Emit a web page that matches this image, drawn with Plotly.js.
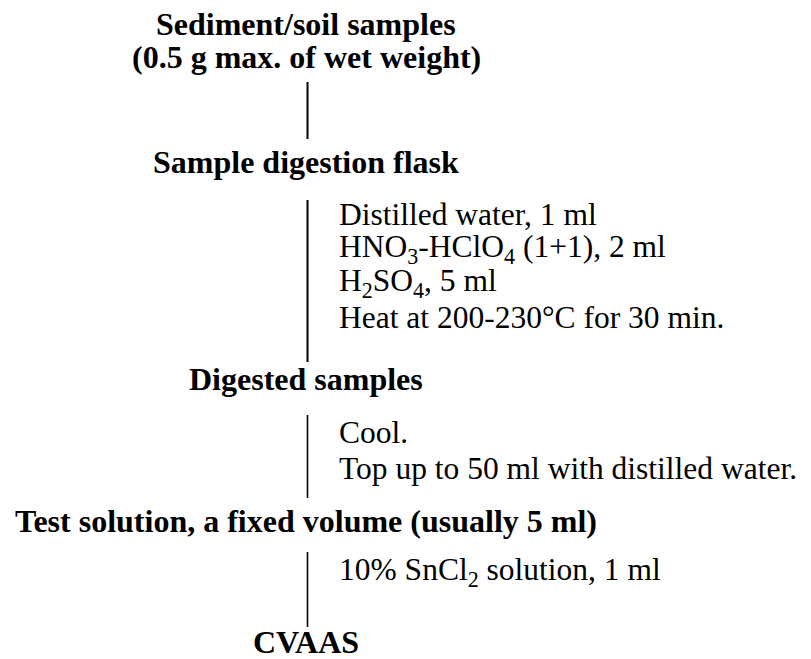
<!DOCTYPE html>
<html>
<head>
<meta charset="utf-8">
<script src="https://cdn.plot.ly/plotly-3.0.1.min.js"></script>
<style>html,body{margin:0;padding:0;background:#fff;}#chart{width:811px;height:659px;}</style>
</head>
<body>
<div id="chart"></div>
<script>
// Flowchart content
const stepLabels = [
  "Sediment/soil samples",
  "(0.5 g max. of wet weight)",
  "Sample digestion flask",
  "Digested samples",
  "Test solution, a fixed volume (usually 5 ml)",
  "CVAAS"
];
const digestionReagents = [
  "Distilled water, 1 ml",
  "HNO<sub>3</sub>-HClO<sub>4</sub> (1+1), 2 ml",
  "H<sub>2</sub>SO<sub>4</sub>, 5 ml",
  "Heat at 200-230°C for 30 min."
];
const dilutionSteps = [
  "Cool.",
  "Top up to 50 ml with distilled water."
];
const measurementReagents = [
  "10% SnCl<sub>2</sub> solution, 1 ml"
];

// Layout (pixel coordinates, baselines)
const W = 811, H = 659;
const FS_BOLD = 32;
const FS_NOTE = 31.5;
const centerX = 306;
const noteX = 337;
const lineX = 307.5;
const stepBaselines = [35, 68, 173, 390, 532, 653];
const noteGroups = [
  {items: digestionReagents, baselines: [225, 260, 294, 328]},
  {items: dilutionSteps, baselines: [443, 479]},
  {items: measurementReagents, baselines: [583]}
];
const connectors = [[82, 139, 2], [200, 362, 2], [415, 498, 1.6], [552, 627, 1.6]];

const family = "Liberation Serif, Times New Roman, serif";
const boldFont = {family: family, size: FS_BOLD, color: "#000"};
const noteFont = {family: family, size: FS_NOTE, color: "#000"};
const mid = (b, fs) => b - 0.34 * fs;

const annotations = [];
stepLabels.forEach((t, i) => {
  annotations.push({x: centerX, y: mid(stepBaselines[i], FS_BOLD), xref: 'x', yref: 'y',
    text: '<b>' + t + '</b>', showarrow: false, xanchor: 'center', yanchor: 'middle', font: boldFont});
});
noteGroups.forEach(g => {
  g.items.forEach((t, i) => {
    annotations.push({x: noteX, y: mid(g.baselines[i], FS_NOTE), xref: 'x', yref: 'y',
      text: t, showarrow: false, xanchor: 'left', yanchor: 'middle', font: noteFont});
  });
});

const shapes = connectors.map(c => ({
  type: 'line', xref: 'x', yref: 'y', x0: lineX, x1: lineX, y0: c[0], y1: c[1],
  line: {color: '#000', width: c[2]}
}));

Plotly.newPlot('chart', [], {
  width: W, height: H,
  margin: {l: 0, r: 0, t: 0, b: 0},
  paper_bgcolor: '#fff', plot_bgcolor: '#fff',
  xaxis: {range: [0, W], visible: false, fixedrange: true},
  yaxis: {range: [H, 0], visible: false, fixedrange: true},
  showlegend: false,
  annotations: annotations,
  shapes: shapes
}, {displayModeBar: false, staticPlot: true});
</script>
</body>
</html>
